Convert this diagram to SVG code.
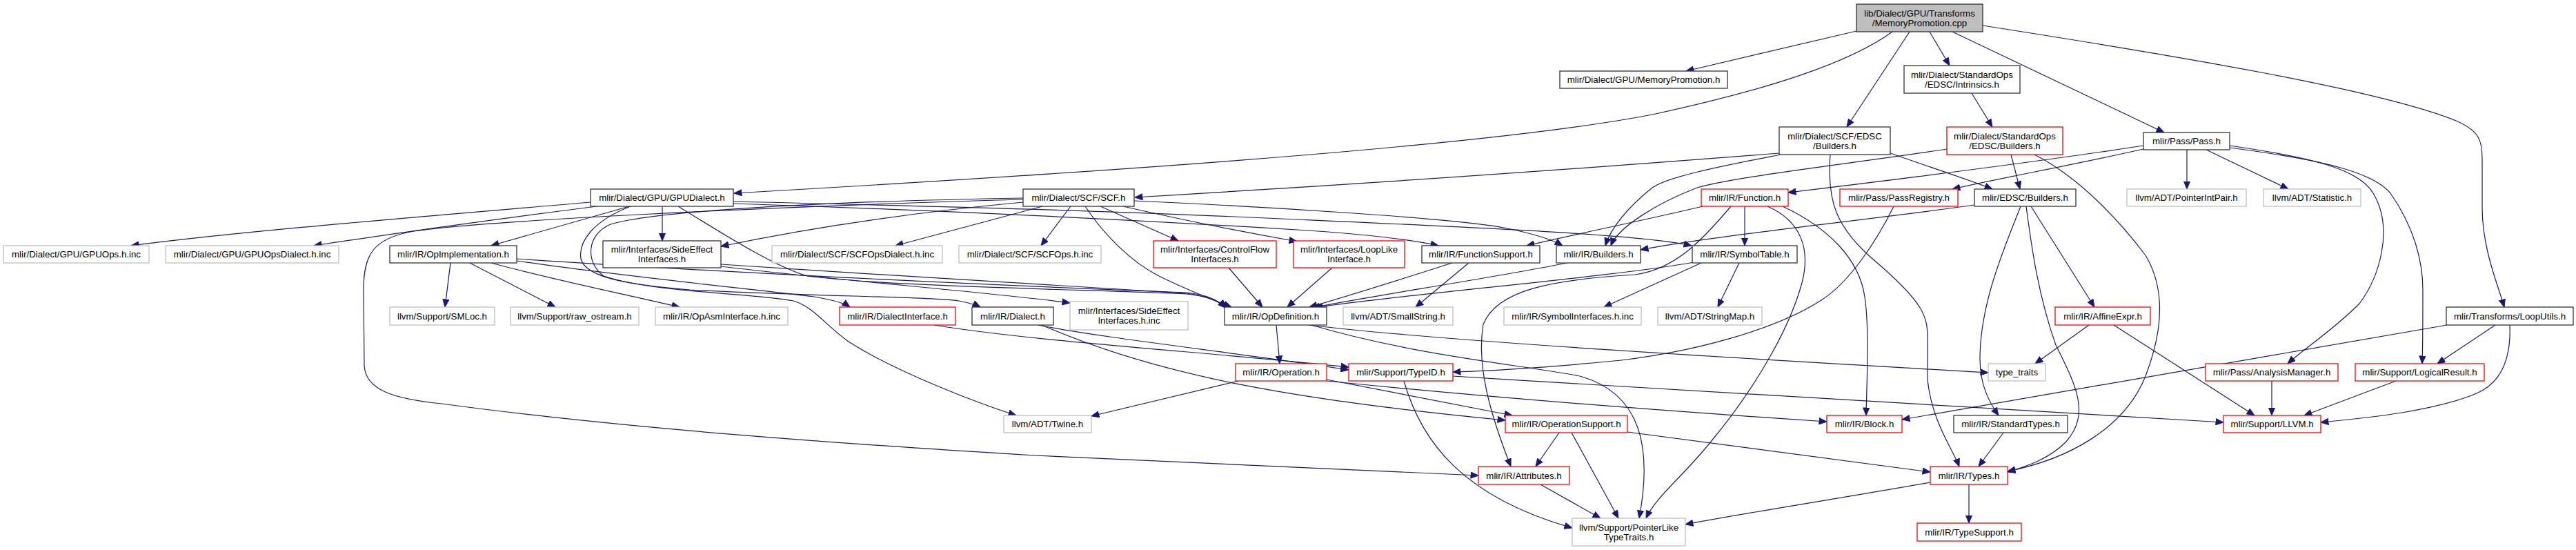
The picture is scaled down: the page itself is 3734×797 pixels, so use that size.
<svg xmlns="http://www.w3.org/2000/svg" width="3734" height="797" viewBox="0 0 3734 797">
<defs>
<style>
.node rect{stroke-width:1.3}
.b rect{fill:#fff;stroke:#333}
.r rect{fill:#fff;stroke:#ff0000}
.g rect{fill:#fff;stroke:#bfbfbf}
.root rect{fill:#bfbfbf;stroke:#333}
.node text{font-family:"Liberation Sans",Arial,Helvetica,sans-serif;font-size:13.3px;fill:#000;text-anchor:middle}
#edges path{fill:none;stroke:#191970;stroke-width:1.2;marker-end:url(#arr)}
</style>
<marker id="arr" viewBox="0 0 12 10" refX="11.5" refY="5" markerWidth="12" markerHeight="10" orient="auto" markerUnits="userSpaceOnUse"><path d="M0.5,0.5 L11.5,5 L0.5,9.5 Z" fill="#191970" stroke="#191970" stroke-width="1"/></marker>
</defs>
<rect x="0" y="0" width="3734" height="797" fill="#fff"/>
<g id="edges">
<path d="M2691,45 L2444,103"/>
<path d="M2743,46 C2680,92 2560,130 2400,165 C2150,215 1500,255 1064,280"/>
<path d="M2768,46 L2677,184"/>
<path d="M2797,46 L2826,95"/>
<path d="M2830,46 L3137,192"/>
<path d="M2874,37 C3150,80 3450,130 3560,175 C3595,190 3598,205 3598,230 L3598,300 C3598,360 3620,410 3630,445"/>
<path d="M2858,135 L2888,184"/>
<path d="M2579,222 C2350,240 2000,265 1645,286"/>
<path d="M2581,224 C2500,240 2420,255 2395,272 C2360,300 2335,330 2327,356"/>
<path d="M2740,222 C2800,243 2850,259 2888,274"/>
<path d="M2653,224 C2648,290 2660,330 2720,380 C2790,440 2794,460 2794,490 L2794,550 C2800,610 2830,650 2840,676"/>
<path d="M2822,216 C2700,235 2520,255 2460,272 C2400,295 2345,330 2335,356"/>
<path d="M2915,224 L2928,274"/>
<path d="M2949,224 C3020,260 3080,330 3110,370 C3140,420 3135,480 3110,545 C3080,620 3000,665 2910,683"/>
<path d="M3107,211 C2950,235 2750,260 2592,279"/>
<path d="M3107,216 C3000,240 2900,258 2830,274"/>
<path d="M3170,217 L3170,274"/>
<path d="M3198,217 L3317,274"/>
<path d="M3232,211 C3350,228 3420,245 3440,280 C3470,330 3450,400 3420,440 C3380,480 3340,505 3316,527"/>
<path d="M3232,214 C3370,232 3440,250 3465,280 C3500,330 3512,380 3512,420 C3512,470 3512,500 3511,527"/>
<path d="M3547,471 L2757,608"/>
<path d="M3617,471 L3533,527"/>
<path d="M3638,471 C3640,520 3625,555 3590,570 C3530,595 3440,605 3364,612"/>
<path d="M856,293 C600,315 350,335 190,356"/>
<path d="M865,299 C700,320 560,340 455,356"/>
<path d="M912,299 L712,356"/>
<path d="M960,299 L960,349"/>
<path d="M1063,292 C1400,300 1600,305 1880,318 C2150,330 2380,340 2452,356"/>
<path d="M1063,295 C1400,306 1700,322 1880,333 C1960,338 2040,346 2085,356"/>
<path d="M914,299 C860,320 838,350 842,375 C848,400 900,412 1000,420 C1200,430 1350,430 1390,436 C1405,439 1415,442 1421,445"/>
<path d="M983,299 C1050,340 1120,385 1170,400 C1300,416 1600,420 1720,426 Q1760,430 1778,446"/>
<path d="M1511,299 L1298,356"/>
<path d="M1552,299 L1509,356"/>
<path d="M1595,299 L1708,349"/>
<path d="M1628,299 C1720,320 1800,336 1880,350"/>
<path d="M1644,291 C1800,298 2100,315 2180,330 C2230,340 2255,350 2265,356"/>
<path d="M1483,293 C1300,310 1150,335 1045,357"/>
<path d="M1573,299 C1600,340 1640,380 1680,400 C1720,420 1760,435 1785,445"/>
<path d="M1483,289 C1100,300 700,320 600,335 C540,345 527,370 527,420 L528,530 C530,565 570,578 640,585 C900,620 1200,642 1500,660 C1800,675 2000,683 2143,689"/>
<path d="M1483,287 C1200,292 950,305 885,325 C850,340 848,380 875,400 C950,425 1100,425 1150,436 C1180,445 1195,470 1230,495 C1300,540 1420,585 1473,602"/>
<path d="M653,381 L645,445"/>
<path d="M681,381 L805,445"/>
<path d="M712,381 C800,405 900,425 985,445"/>
<path d="M749,378 C900,400 1100,420 1180,430 C1210,435 1225,440 1232,445"/>
<path d="M749,375 C1000,392 1400,412 1720,424 Q1760,428 1777,446"/>
<path d="M1045,386 C1200,405 1450,425 1551,439"/>
<path d="M1045,383 C1300,400 1600,418 1720,425 Q1760,430 1777,446"/>
<path d="M1781,388 L1830,445"/>
<path d="M1931,388 L1866,445"/>
<path d="M2105,381 C2030,405 1950,430 1898,445"/>
<path d="M2129,381 L2052,445"/>
<path d="M2272,381 C2150,405 1980,430 1902,446"/>
<path d="M2455,380 C2350,400 2000,430 1906,446"/>
<path d="M2466,381 L2325,445"/>
<path d="M2521,381 L2490,445"/>
<path d="M2468,299 C2380,320 2280,340 2213,356"/>
<path d="M2529,299 L2529,356"/>
<path d="M2509,299 C2470,345 2430,390 2370,398 C2250,405 2170,420 2150,470 C2140,530 2160,600 2190,676"/>
<path d="M2584,299 C2650,330 2695,375 2703,430 C2710,480 2706,550 2705,602"/>
<path d="M2562,299 C2610,320 2625,360 2612,410 C2590,490 2530,580 2480,640 C2440,690 2400,720 2386,751"/>
<path d="M2862,297 C2700,320 2480,342 2378,362"/>
<path d="M2944,299 L3036,445"/>
<path d="M2929,299 C2905,360 2870,440 2870,520 C2870,560 2885,585 2897,602"/>
<path d="M2937,299 C2945,360 2955,430 2980,500 C3010,560 3030,600 2995,640 C2970,665 2940,675 2910,684"/>
<path d="M2745,299 C2720,350 2680,410 2640,435 C2570,480 2450,510 2350,522 C2250,532 2170,537 2106,539"/>
<path d="M3028,471 L2950,527"/>
<path d="M3064,471 L3268,602"/>
<path d="M1795,552 L1582,603"/>
<path d="M1923,550 C2030,570 2130,590 2192,602"/>
<path d="M1923,552 C2200,580 2450,598 2648,611"/>
<path d="M1850,471 L1855,527"/>
<path d="M1897,471 C2100,495 2500,518 2882,540"/>
<path d="M1901,471 C2050,515 2200,528 2290,545 C2380,570 2395,650 2376,751"/>
<path d="M2035,552 C2060,640 2120,720 2279,765"/>
<path d="M2106,545 C2500,570 2900,590 3223,612"/>
<path d="M1354,471 C1500,495 1750,510 1955,532"/>
<path d="M1505,471 C1600,490 1800,512 1955,536"/>
<path d="M1510,471 C1680,545 1880,580 2182,609"/>
<path d="M2260,627 L2226,676"/>
<path d="M2278,627 L2346,751"/>
<path d="M2359,626 L2798,684"/>
<path d="M2233,702 L2320,751"/>
<path d="M2904,627 L2868,676"/>
<path d="M2854,702 L2854,758"/>
<path d="M2798,699 C2650,725 2520,745 2443,760"/>
<path d="M3293,552 L3293,602"/>
<path d="M3473,552 L3340,602"/>
</g>
<g id="n_root" class="node root"><rect x="2691" y="6" width="183" height="40"/><text x="2782.5" y="23.7">lib/Dialect/GPU/Transforms</text><text x="2782.5" y="37.7">/MemoryPromotion.cpp</text></g>
<g id="n_mempromo" class="node b"><rect x="2261" y="103" width="243" height="25"/><text x="2382.5" y="120.2">mlir/Dialect/GPU/MemoryPromotion.h</text></g>
<g id="n_intrinsics" class="node b"><rect x="2760" y="95" width="168" height="40"/><text x="2844" y="112.7">mlir/Dialect/StandardOps</text><text x="2844" y="126.7">/EDSC/Intrinsics.h</text></g>
<g id="n_scfedsc" class="node b"><rect x="2579" y="184" width="161" height="40"/><text x="2659.5" y="201.7">mlir/Dialect/SCF/EDSC</text><text x="2659.5" y="215.7">/Builders.h</text></g>
<g id="n_stdedsc" class="node r"><rect x="2822" y="184" width="168" height="40"/><text x="2906" y="201.7">mlir/Dialect/StandardOps</text><text x="2906" y="215.7">/EDSC/Builders.h</text></g>
<g id="n_pass" class="node b"><rect x="3107" y="192" width="125" height="25"/><text x="3169.5" y="209.2">mlir/Pass/Pass.h</text></g>
<g id="n_gpudialect" class="node b"><rect x="856" y="274" width="207" height="25"/><text x="959.5" y="291.2">mlir/Dialect/GPU/GPUDialect.h</text></g>
<g id="n_scf" class="node b"><rect x="1483" y="274" width="161" height="25"/><text x="1563.5" y="291.2">mlir/Dialect/SCF/SCF.h</text></g>
<g id="n_function" class="node r"><rect x="2466" y="274" width="126" height="25"/><text x="2529" y="291.2">mlir/IR/Function.h</text></g>
<g id="n_passreg" class="node r"><rect x="2667" y="274" width="171" height="25"/><text x="2752.5" y="291.2">mlir/Pass/PassRegistry.h</text></g>
<g id="n_edsc" class="node b"><rect x="2862" y="274" width="147" height="25"/><text x="2935.5" y="291.2">mlir/EDSC/Builders.h</text></g>
<g id="n_pip" class="node g"><rect x="3083" y="274" width="173" height="25"/><text x="3169.5" y="291.2">llvm/ADT/PointerIntPair.h</text></g>
<g id="n_stat" class="node g"><rect x="3281" y="274" width="141" height="25"/><text x="3351.5" y="291.2">llvm/ADT/Statistic.h</text></g>
<g id="n_gpuops" class="node g"><rect x="5" y="356" width="211" height="25"/><text x="110.5" y="373.2">mlir/Dialect/GPU/GPUOps.h.inc</text></g>
<g id="n_gpuopsd" class="node g"><rect x="240" y="356" width="251" height="25"/><text x="365.5" y="373.2">mlir/Dialect/GPU/GPUOpsDialect.h.inc</text></g>
<g id="n_opimpl" class="node b"><rect x="565" y="356" width="184" height="25"/><text x="657" y="373.2">mlir/IR/OpImplementation.h</text></g>
<g id="n_sideeff" class="node b"><rect x="874" y="349" width="171" height="39"/><text x="959.5" y="366.2">mlir/Interfaces/SideEffect</text><text x="959.5" y="380.2">Interfaces.h</text></g>
<g id="n_scfopsd" class="node g"><rect x="1119" y="356" width="247" height="25"/><text x="1242.5" y="373.2">mlir/Dialect/SCF/SCFOpsDialect.h.inc</text></g>
<g id="n_scfops" class="node g"><rect x="1390" y="356" width="206" height="25"/><text x="1493" y="373.2">mlir/Dialect/SCF/SCFOps.h.inc</text></g>
<g id="n_cf" class="node r"><rect x="1672" y="349" width="178" height="39"/><text x="1761" y="366.2">mlir/Interfaces/ControlFlow</text><text x="1761" y="380.2">Interfaces.h</text></g>
<g id="n_looplike" class="node r"><rect x="1875" y="349" width="161" height="39"/><text x="1955.5" y="366.2">mlir/Interfaces/LoopLike</text><text x="1955.5" y="380.2">Interface.h</text></g>
<g id="n_funcsup" class="node b"><rect x="2061" y="356" width="171" height="25"/><text x="2146.5" y="373.2">mlir/IR/FunctionSupport.h</text></g>
<g id="n_builders" class="node b"><rect x="2256" y="356" width="122" height="25"/><text x="2317" y="373.2">mlir/IR/Builders.h</text></g>
<g id="n_symtab" class="node b"><rect x="2453" y="356" width="152" height="25"/><text x="2529" y="373.2">mlir/IR/SymbolTable.h</text></g>
<g id="n_smloc" class="node g"><rect x="565" y="445" width="152" height="26"/><text x="641" y="462.7">llvm/Support/SMLoc.h</text></g>
<g id="n_rawos" class="node g"><rect x="740" y="445" width="186" height="26"/><text x="833" y="462.7">llvm/Support/raw_ostream.h</text></g>
<g id="n_opasm" class="node g"><rect x="950" y="445" width="192" height="26"/><text x="1046" y="462.7">mlir/IR/OpAsmInterface.h.inc</text></g>
<g id="n_dialint" class="node r"><rect x="1217" y="445" width="168" height="26"/><text x="1301" y="462.7">mlir/IR/DialectInterface.h</text></g>
<g id="n_dialect" class="node b"><rect x="1409" y="445" width="118" height="26"/><text x="1468" y="462.7">mlir/IR/Dialect.h</text></g>
<g id="n_sideinc" class="node g"><rect x="1551" y="437" width="171" height="41"/><text x="1636.5" y="455.2">mlir/Interfaces/SideEffect</text><text x="1636.5" y="469.2">Interfaces.h.inc</text></g>
<g id="n_opdef" class="node b"><rect x="1775" y="445" width="148" height="26"/><text x="1849" y="462.7">mlir/IR/OpDefinition.h</text></g>
<g id="n_smallstr" class="node g"><rect x="1947" y="445" width="159" height="26"/><text x="2026.5" y="462.7">llvm/ADT/SmallString.h</text></g>
<g id="n_syminc" class="node g"><rect x="2180" y="445" width="199" height="26"/><text x="2279.5" y="462.7">mlir/IR/SymbolInterfaces.h.inc</text></g>
<g id="n_strmap" class="node g"><rect x="2403" y="445" width="151" height="26"/><text x="2478.5" y="462.7">llvm/ADT/StringMap.h</text></g>
<g id="n_affine" class="node r"><rect x="2979" y="445" width="138" height="26"/><text x="3048" y="462.7">mlir/IR/AffineExpr.h</text></g>
<g id="n_looputils" class="node b"><rect x="3546" y="445" width="184" height="26"/><text x="3638" y="462.7">mlir/Transforms/LoopUtils.h</text></g>
<g id="n_operation" class="node r"><rect x="1791" y="527" width="132" height="25"/><text x="1857" y="544.2">mlir/IR/Operation.h</text></g>
<g id="n_typeid" class="node r"><rect x="1955" y="527" width="151" height="25"/><text x="2030.5" y="544.2">mlir/Support/TypeID.h</text></g>
<g id="n_typetraits" class="node g"><rect x="2882" y="527" width="83" height="25"/><text x="2923.5" y="544.2">type_traits</text></g>
<g id="n_analysis" class="node r"><rect x="3197" y="527" width="192" height="25"/><text x="3293" y="544.2">mlir/Pass/AnalysisManager.h</text></g>
<g id="n_logical" class="node r"><rect x="3414" y="527" width="187" height="25"/><text x="3507.5" y="544.2">mlir/Support/LogicalResult.h</text></g>
<g id="n_twine" class="node g"><rect x="1455" y="602" width="127" height="25"/><text x="1518.5" y="619.2">llvm/ADT/Twine.h</text></g>
<g id="n_opsupport" class="node r"><rect x="2182" y="602" width="177" height="25"/><text x="2270.5" y="619.2">mlir/IR/OperationSupport.h</text></g>
<g id="n_block" class="node r"><rect x="2648" y="602" width="109" height="25"/><text x="2702.5" y="619.2">mlir/IR/Block.h</text></g>
<g id="n_stdtypes" class="node b"><rect x="2832" y="602" width="165" height="25"/><text x="2914.5" y="619.2">mlir/IR/StandardTypes.h</text></g>
<g id="n_llvm" class="node r"><rect x="3223" y="602" width="141" height="25"/><text x="3293.5" y="619.2">mlir/Support/LLVM.h</text></g>
<g id="n_attr" class="node r"><rect x="2143" y="676" width="132" height="26"/><text x="2209" y="693.7">mlir/IR/Attributes.h</text></g>
<g id="n_types" class="node r"><rect x="2798" y="676" width="112" height="26"/><text x="2854" y="693.7">mlir/IR/Types.h</text></g>
<g id="n_ptrlike" class="node g"><rect x="2279" y="751" width="164" height="40"/><text x="2361" y="768.7">llvm/Support/PointerLike</text><text x="2361" y="782.7">TypeTraits.h</text></g>
<g id="n_typesupport" class="node r"><rect x="2779" y="758" width="151" height="26"/><text x="2854.5" y="775.7">mlir/IR/TypeSupport.h</text></g>
</svg>
